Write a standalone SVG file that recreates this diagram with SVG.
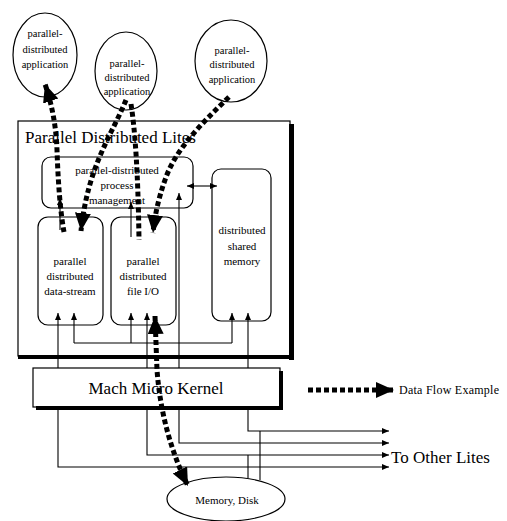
<svg xmlns="http://www.w3.org/2000/svg" width="507" height="521" viewBox="0 0 507 521">
<style>
.box{fill:#fff;stroke:#000;stroke-width:1.2}
.sh{fill:#000;stroke:none}
.t{font-family:"Liberation Serif","Times New Roman",serif;fill:#000;text-anchor:middle}
.s10{font-size:10.5px}
.s11{font-size:11px}
.s16{font-size:17px}
.thin{fill:none;stroke:#000;stroke-width:1.1}
.flow{fill:none;stroke:#000;stroke-width:5;stroke-dasharray:5 3}
</style>
<defs>
<marker id="big" markerUnits="userSpaceOnUse" markerWidth="20" markerHeight="18" refX="18" refY="8" orient="auto-start-reverse">
<path d="M0,0 L18,8 L0,16 z" fill="#000"/>
</marker>
<marker id="small" markerUnits="userSpaceOnUse" markerWidth="8" markerHeight="8" refX="7" refY="3" orient="auto-start-reverse">
<path d="M0,0 L7,3 L0,6 z" fill="#000"/>
</marker>
</defs>

<g id="lites-frame">
<rect class="box" x="18" y="121" width="272" height="235"/>
<rect class="sh" x="289" y="124" width="5" height="236"/>
<rect class="sh" x="18" y="355" width="276" height="4"/>
<text class="t s16" x="25" y="143" style="text-anchor:start">Parallel Distributed Lites</text>
</g>

<g id="app-left">
<ellipse class="box" cx="45" cy="55" rx="32" ry="42"/>
<text class="t s10" x="45" y="37">parallel-</text>
<text class="t s10" x="45" y="53">distributed</text>
<text class="t s10" x="45" y="68">application</text>
</g>

<g id="app-middle">
<ellipse class="box" cx="126" cy="71" rx="31" ry="39"/>
<text class="t s10" x="127" y="67">parallel-</text>
<text class="t s10" x="127" y="81">distributed</text>
<text class="t s10" x="127" y="95">application</text>
</g>

<g id="app-right">
<ellipse class="box" cx="231" cy="61" rx="36" ry="41"/>
<text class="t s10" x="232" y="54">parallel-</text>
<text class="t s10" x="232" y="68">distributed</text>
<text class="t s10" x="232" y="83">application</text>
</g>

<g id="process-management">
<rect class="box" x="42" y="157" width="151" height="51" rx="9"/>
<text class="t s11" x="117" y="174">parallel-distributed</text>
<text class="t s11" x="117" y="189">process</text>
<text class="t s11" x="117" y="204">management</text>
</g>

<g id="data-stream">
<rect class="box" x="38" y="217" width="65" height="108" rx="10"/>
<text class="t s11" x="70" y="265">parallel</text>
<text class="t s11" x="70" y="280">distributed</text>
<text class="t s11" x="70" y="295">data-stream</text>
</g>

<g id="file-io">
<rect class="box" x="111" y="217" width="65" height="108" rx="10"/>
<text class="t s11" x="143" y="265">parallel</text>
<text class="t s11" x="143" y="280">distributed</text>
<text class="t s11" x="143" y="295">file I/O</text>
</g>

<g id="shared-memory">
<rect class="box" x="212" y="169" width="59" height="152" rx="9"/>
<text class="t s11" x="242" y="234">distributed</text>
<text class="t s11" x="242" y="250">shared</text>
<text class="t s11" x="242" y="265">memory</text>
</g>

<g id="mach-kernel">
<rect class="box" x="33" y="368" width="247" height="39"/>
<rect class="sh" x="279" y="371" width="4" height="39"/>
<rect class="sh" x="36" y="406" width="247" height="4"/>
<text class="t s16" x="156" y="394">Mach Micro Kernel</text>
</g>

<g id="memory-disk">
<ellipse class="box" cx="226" cy="499" rx="59" ry="22"/>
<text class="t s11" x="227" y="504">Memory, Disk</text>
</g>

<g id="legend">
<path class="flow" d="M308,390 L394,390" marker-end="url(#big)"/>
<text class="t" x="399" y="394" style="text-anchor:start;font-size:12px" textLength="100">Data Flow Example</text>
</g>

<g id="to-other-lites">
<text class="t" x="391" y="463" style="text-anchor:start;font-size:17px">To Other Lites</text>
</g>

<g id="connectors">
<path class="thin" d="M187,186 L217,186" marker-start="url(#small)" marker-end="url(#small)"/>
<path class="thin" d="M60,230 L60,198" marker-end="url(#small)"/>
<path class="thin" d="M131,237 L131,202" marker-end="url(#small)"/>
<path class="thin" d="M179,368 L179,193" marker-end="url(#small)"/>
<path class="thin" d="M58,368 L58,313" marker-end="url(#small)"/>
<path class="thin" d="M147,368 L147,313" marker-end="url(#small)"/>
<path class="thin" d="M248,368 L248,313" marker-end="url(#small)"/>
<path class="thin" d="M74,343 L232,343"/>
<path class="thin" d="M74,343 L74,313" marker-end="url(#small)"/>
<path class="thin" d="M131,343 L131,313" marker-end="url(#small)"/>
<path class="thin" d="M232,343 L232,313" marker-end="url(#small)"/>
<path class="thin" d="M248,408 L248,431 L389,431" marker-end="url(#small)"/>
<path class="thin" d="M179,408 L179,443 L389,443" marker-end="url(#small)"/>
<path class="thin" d="M147,408 L147,455 L389,455" marker-end="url(#small)"/>
<path class="thin" d="M58,408 L58,467 L389,467" marker-end="url(#small)"/>
<path class="thin" d="M248,455 L248,478"/>
<path class="thin" d="M260,431 L260,480"/>
<path class="flow" d="M64,232 C60,210 58,180 57,150 C56,125 52,105 45,84" marker-end="url(#big)"/>
<path class="flow" d="M126,100 C112,135 88,165 81,231" marker-end="url(#big)"/>
<path class="flow" d="M131,104 C135,130 138,170 139,240"/>
<path class="flow" d="M229,97 C200,125 175,150 165,180 C158,200 155,215 153,233" marker-end="url(#big)"/>
<path class="flow" d="M155,316 L157,370 C160,410 170,450 188,486" marker-start="url(#big)" marker-end="url(#big)"/>
</g>
</svg>
